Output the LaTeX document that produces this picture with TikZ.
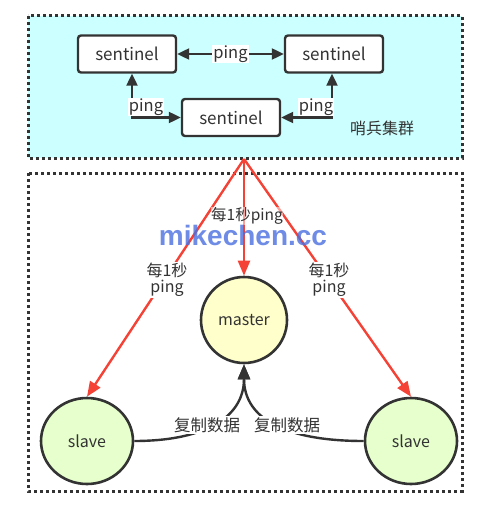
\documentclass[tikz,border=0pt]{standalone}
\usepackage{fontspec}
\setmainfont{Noto Sans CJK SC}
\newfontfamily\wmfont{Liberation Sans}
\usetikzlibrary{arrows.meta,shapes.geometric}
\definecolor{dk}{HTML}{333333}
\definecolor{cy}{HTML}{CCFFFF}
\definecolor{rd}{HTML}{F44336}
\definecolor{ms}{HTML}{FFFFCC}
\definecolor{sl}{HTML}{E6FFCC}
\definecolor{wm}{HTML}{4A6FE0}
\tikzset{
  zone/.style={draw=dk, line width=3pt, dash pattern=on 3pt off 3pt},
  sent/.style={draw=dk, line width=2.4pt, rounded corners=3pt, fill=white, minimum width=98pt, minimum height=37pt, inner sep=0pt, font=\fontsize{17}{19}\selectfont, text=dk},
  pingline/.style={draw=dk, line width=2.2pt, {Triangle[length=12pt,width=11pt]}-{Triangle[length=12pt,width=11pt]}},
  lbl/.style={fill=white, inner sep=1pt, font=\fontsize{16.5}{18}\selectfont, text=dk},
  rlbl/.style={fill=white, inner sep=1pt, font=\fontsize{16}{18}\selectfont, text=dk, align=center},
  redarrow/.style={draw=rd, line width=2.4pt, -{Triangle[length=15pt,width=12pt]}},
  blkarrow/.style={draw=dk, line width=2.4pt, -{Triangle[length=15pt,width=12pt]}},
  circ/.style={draw=dk, line width=2.6pt, ellipse, inner sep=0pt, font=\fontsize{16}{18}\selectfont, text=dk},
}
\begin{document}
\begin{tikzpicture}[x=1pt,y=-1pt]
\useasboundingbox (0,0) rectangle (476,505);
% zones
\fill[cy] (28,16) rectangle (462,158);
\draw[zone] (28,16) rectangle (462,158);
\draw[zone] (28,173) rectangle (462,491);
% sentinels
\node[sent] (s1) at (127,54) {sentinel};
\node[sent] (s2) at (334,54) {sentinel};
\node[sent] (s3) at (231,117.5) {sentinel};
\draw[pingline] (s1) -- (s2) node[midway, lbl] {ping};
\coordinate (s1b) at ([xshift=5pt]s1.south);
\coordinate (s2b) at ([xshift=-2pt]s2.south);
\draw[pingline] (s1b) |- (s3.west);
\draw[pingline] (s2b) |- (s3.east);
\node[lbl] (pl) at (146,107) {ping};
\node[lbl] (pr) at (316,107) {ping};
\node[font=\fontsize{16}{18}\selectfont, text=dk] (zl) at (382,128) {哨兵集群};
% circles
\node[circ, fill=ms, minimum width=86pt, minimum height=86pt] (m) at (244,320) {master};
\node[circ, fill=sl, minimum width=92pt, minimum height=86pt] (a) at (87,441) {slave};
\node[circ, fill=sl, minimum width=92pt, minimum height=86pt] (b) at (411,441) {slave};
% red pings
\coordinate (o) at (244,159);
\draw[redarrow] (o) -- (m.north);
\draw[redarrow] (o) -- (a.north);
\draw[redarrow] (o) -- (b.north);
\node[fill=white, fill opacity=0.5, text opacity=1, inner sep=0.5pt, font=\fontsize{15.5}{18}\selectfont, text=dk] (lm) at (247,216) {每1秒ping};
\node[rlbl] (ll) at (167,280) {每1秒\\[-2pt]ping};
\node[rlbl] (lr) at (329,280) {每1秒\\[-2pt]ping};
% replication
\draw[blkarrow] (a.east) .. controls (200,441) and (244,420) .. (m.south);
\draw[blkarrow] (b.west) .. controls (288,441) and (244,420) .. (m.south);
\node[lbl] (ca) at (207,425) {复制数据};
\node[lbl] (cb) at (287,425) {复制数据};
% watermark
\node[text=wm, text opacity=0.8, font=\wmfont\bfseries\fontsize{28}{30}\selectfont] (w) at (243,235) {mikechen.cc};
\end{tikzpicture}
\end{document}
